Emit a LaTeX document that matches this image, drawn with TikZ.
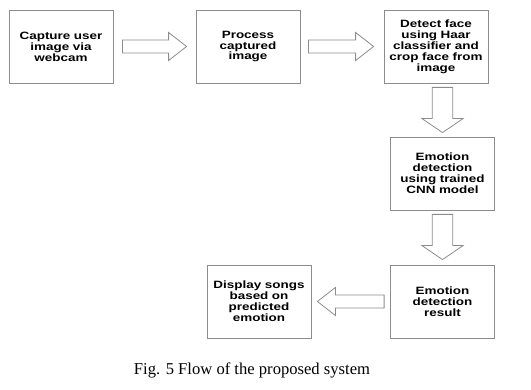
\documentclass[tikz,border=0pt]{standalone}
\usepackage{fontspec}
\setmainfont{Liberation Serif}
\newfontfamily\boxfont[FakeStretch=1.27]{Liberation Sans}
\usetikzlibrary{calc}
\definecolor{linegray}{HTML}{8C8C8C}

\begin{document}
\begin{tikzpicture}[x=1pt, y=-1pt,
  box/.style={draw=linegray, line width=0.8pt, minimum width=104pt, minimum height=73pt,
    text width=100pt, align=center, inner sep=0pt,
    font=\boxfont\bfseries\fontsize{10.6}{10.9}\selectfont},
  barrow/.style n args={3}{draw=linegray, line width=0.8pt,
    to path={let \p1=(\tikztostart), \p2=(\tikztotarget),
      \n1={atan2(\y2-\y1,\x2-\x1)}, \n2={veclen(\x2-\x1,\y2-\y1)} in
      {[shift={(\p1)}, rotate=\n1] (0,#1) -- (\n2-#3,#1) -- (\n2-#3,#2) -- (\n2,0)
        -- (\n2-#3,-#2) -- (\n2-#3,-#1) -- (0,-#1) -- cycle}}},
  harrow/.style={barrow={6.5}{14}{18}},
  varrow/.style={barrow={10.3}{20.5}{14}}
]
\useasboundingbox (0,0) rectangle (531,390);

% boxes
\node[box] (capture) at (61,46.5)    {Capture user\\image via\\webcam};
\node[box] (process) at (248,46.5)   {Process\\captured\\image};
\node[box] (detect)  at (436,46.5)   {Detect face\\using Haar\\classifier and\\crop face from\\image};
\node[box] (cnn)     at (442.5,173.5) {Emotion\\detection\\using trained\\CNN model};
\node[box] (result)  at (442.5,301.5) {Emotion\\detection\\result};
\node[box] (songs)   at (259,301.5)  {Display songs\\based on\\predicted\\emotion};

% block arrows
\draw[harrow] ($(capture.east)+(9,0)$) to ($(process.west)+(-9,0)$);
\draw[harrow] ($(process.east)+(8,0)$) to ($(detect.west)+(-10,0)$);
\draw[varrow] ($(cnn.north |- detect.south)+(0,4)$) to ($(cnn.north)+(0,-4)$);
\draw[varrow] ($(cnn.south)+(0,4)$) to ($(result.north)+(0,-5)$);
\draw[harrow] ($(result.west)+(-6,0)$) to ($(songs.east)+(6,0)$);

\node[font=\fontsize{16.6}{20}\selectfont, anchor=base] (caption) at (252,375)
  {Fig. 5 Flow of the proposed system};
\end{tikzpicture}
\end{document}
